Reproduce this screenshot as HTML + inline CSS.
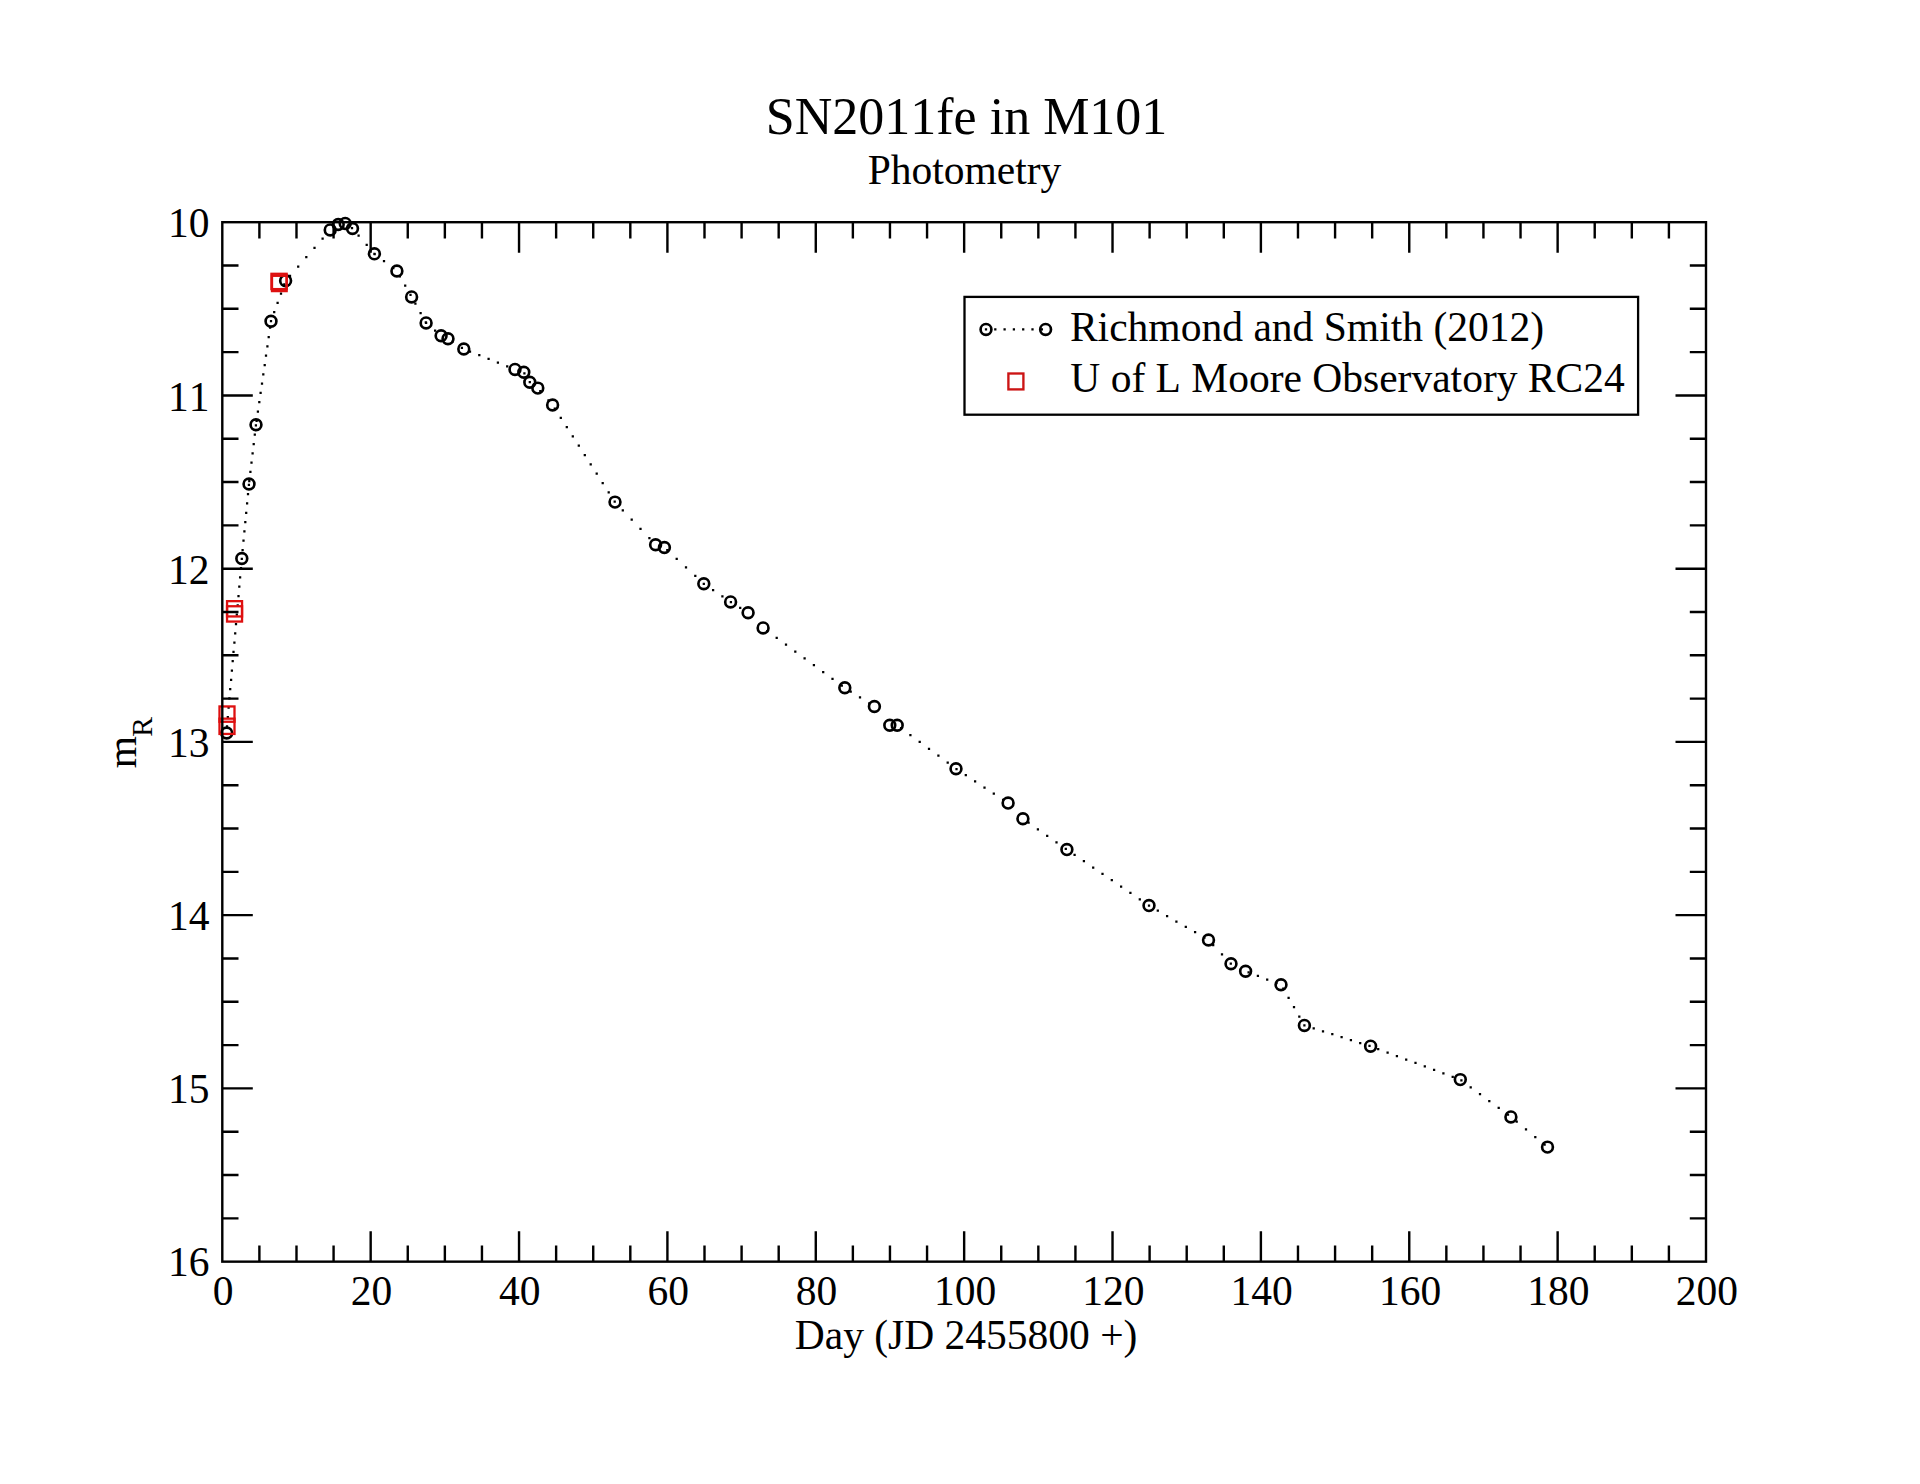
<!DOCTYPE html>
<html lang="en"><head><meta charset="utf-8"><title>SN2011fe in M101 - Photometry</title>
<style>html,body{margin:0;padding:0;background:#fff}body{width:1920px;height:1484px;overflow:hidden}svg{display:block}text{font-kerning:none;font-family:"Liberation Serif","Times New Roman",serif;fill:#000}</style></head><body>
<svg width="1920" height="1484" viewBox="0 0 1920 1484">
<rect width="1920" height="1484" fill="#fff"/>
<text x="966.6" y="134.3" font-size="52.0" text-anchor="middle">SN2011fe in M101</text>
<text x="964.5" y="184.3" font-size="41.5" text-anchor="middle">Photometry</text>
<g font-size="41.5" text-anchor="middle">
<text x="223.1" y="1305.2">0</text>
<text x="371.5" y="1305.2">20</text>
<text x="519.8" y="1305.2">40</text>
<text x="668.2" y="1305.2">60</text>
<text x="816.6" y="1305.2">80</text>
<text x="965.0" y="1305.2">100</text>
<text x="1113.3" y="1305.2">120</text>
<text x="1261.7" y="1305.2">140</text>
<text x="1410.1" y="1305.2">160</text>
<text x="1558.4" y="1305.2">180</text>
<text x="1706.8" y="1305.2">200</text>
</g>
<g font-size="41.5" text-anchor="end">
<text x="209.5" y="237.2">10</text>
<text x="209.5" y="411.2">11</text>
<text x="209.5" y="583.7">12</text>
<text x="209.5" y="756.6">13</text>
<text x="209.5" y="930.2">14</text>
<text x="209.5" y="1103.4">15</text>
<text x="209.5" y="1275.7">16</text>
</g>
<text x="966.1" y="1349.2" font-size="41.5" text-anchor="middle">Day (JD 2455800 +)</text>
<text transform="translate(136.3,768.2) rotate(-90)" font-size="41.5">m<tspan font-size="29.5" dx="-0.8" dy="15.8">R</tspan></text>
<path d="M241.8 558.8h.01M241.0 568.1h.01M240.1 577.4h.01M239.3 586.7h.01M238.5 596.0h.01M237.7 605.3h.01M236.8 614.6h.01M236.0 624.0h.01M235.2 633.3h.01M234.4 642.6h.01M233.5 651.9h.01M232.7 661.2h.01M231.9 670.5h.01M231.1 679.8h.01M230.2 689.1h.01M229.4 698.4h.01M228.6 707.7h.01M227.8 717.0h.01M227.0 726.4h.01M248.9 484.8h.01M248.0 494.1h.01M247.1 503.4h.01M246.2 512.8h.01M245.3 522.1h.01M244.4 531.4h.01M243.5 540.7h.01M242.6 550.0h.01M255.9 425.4h.01M254.8 434.7h.01M253.7 444.0h.01M252.6 453.3h.01M251.5 462.6h.01M250.4 471.9h.01M249.3 481.2h.01M270.1 327.7h.01M268.7 337.0h.01M267.4 346.3h.01M266.0 355.6h.01M264.7 365.0h.01M263.3 374.3h.01M262.0 383.6h.01M260.6 392.9h.01M259.3 402.2h.01M257.9 411.5h.01M256.6 420.8h.01M284.3 284.3h.01M281.0 293.6h.01M277.6 302.9h.01M274.2 312.2h.01M271.0 321.2h.01M322.6 238.5h.01M314.5 247.8h.01M306.3 257.1h.01M298.2 266.5h.01M290.0 275.8h.01M352.0 228.2h.01M358.6 235.6h.01M366.7 244.9h.01M374.4 253.8h.01M374.7 254.0h.01M384.0 261.1h.01M393.3 268.2h.01M399.9 276.3h.01M405.2 285.6h.01M410.5 294.9h.01M415.4 303.7h.01M420.6 313.0h.01M425.8 322.3h.01M426.1 322.9h.01M435.1 330.7h.01M452.6 341.7h.01M461.9 347.8h.01M470.0 351.5h.01M479.3 355.2h.01M488.6 358.9h.01M497.9 362.6h.01M507.2 366.3h.01M524.4 373.3h.01M529.8 382.2h.01M540.3 391.0h.01M548.5 400.3h.01M554.8 408.5h.01M560.8 417.8h.01M566.8 427.1h.01M572.8 436.4h.01M578.8 445.7h.01M584.8 455.0h.01M590.7 464.3h.01M596.7 473.7h.01M602.7 483.0h.01M608.7 492.3h.01M614.7 501.6h.01M622.8 510.3h.01M631.7 519.6h.01M640.5 528.9h.01M649.4 538.2h.01M667.3 550.2h.01M676.7 558.8h.01M686.0 567.4h.01M695.3 575.9h.01M703.8 583.8h.01M713.1 590.1h.01M722.4 596.4h.01M730.9 602.1h.01M740.2 607.9h.01M767.3 631.0h.01M776.7 637.8h.01M786.0 644.7h.01M795.3 651.5h.01M804.6 658.3h.01M813.9 665.1h.01M823.2 672.0h.01M832.5 678.8h.01M841.8 685.6h.01M850.7 691.5h.01M860.0 697.4h.01M869.3 703.3h.01M901.1 728.1h.01M910.4 735.0h.01M919.7 741.9h.01M929.0 748.8h.01M938.4 755.7h.01M947.7 762.6h.01M956.5 769.1h.01M965.8 775.2h.01M975.1 781.4h.01M984.5 787.5h.01M993.8 793.6h.01M1003.1 799.8h.01M1028.6 822.7h.01M1037.9 829.3h.01M1047.2 835.8h.01M1056.5 842.3h.01M1065.8 848.9h.01M1074.6 854.8h.01M1083.9 861.2h.01M1093.2 867.5h.01M1102.5 873.9h.01M1111.8 880.2h.01M1121.1 886.6h.01M1130.4 892.9h.01M1139.8 899.3h.01M1149.0 905.6h.01M1149.0 905.6h.01M1157.8 910.7h.01M1167.1 916.1h.01M1176.4 921.5h.01M1185.8 926.8h.01M1195.1 932.2h.01M1204.4 937.6h.01M1213.2 945.0h.01M1222.0 954.3h.01M1230.8 963.6h.01M1248.6 972.4h.01M1257.9 975.9h.01M1267.2 979.5h.01M1276.5 983.0h.01M1283.3 988.6h.01M1288.6 997.9h.01M1294.0 1007.2h.01M1299.3 1016.5h.01M1304.4 1025.4h.01M1304.4 1025.4h.01M1313.7 1028.3h.01M1323.0 1031.3h.01M1332.3 1034.2h.01M1341.6 1037.1h.01M1350.9 1040.1h.01M1360.2 1043.0h.01M1369.5 1045.9h.01M1378.2 1049.1h.01M1387.6 1052.6h.01M1396.9 1056.0h.01M1406.2 1059.5h.01M1415.5 1062.9h.01M1424.8 1066.4h.01M1434.1 1069.9h.01M1443.4 1073.3h.01M1452.7 1076.8h.01M1461.4 1080.4h.01M1470.7 1087.3h.01M1480.0 1094.1h.01M1489.3 1101.0h.01M1498.7 1107.9h.01M1508.0 1114.7h.01M1516.7 1121.7h.01M1526.0 1129.3h.01M1535.3 1137.0h.01M1544.6 1144.7h.01" stroke="#000" stroke-width="2.25" stroke-linecap="square" fill="none"/>
<g fill="none" stroke="#000" stroke-width="2.65">
<circle cx="226.7" cy="733.0" r="5.4"/>
<circle cx="241.8" cy="558.5" r="5.4"/>
<circle cx="249.0" cy="484.0" r="5.4"/>
<circle cx="256.0" cy="424.8" r="5.4"/>
<circle cx="271.0" cy="321.2" r="5.4"/>
<circle cx="285.6" cy="280.8" r="5.4"/>
<circle cx="330.2" cy="229.9" r="5.4"/>
<circle cx="338.2" cy="224.5" r="5.4"/>
<circle cx="345.2" cy="223.4" r="5.4"/>
<circle cx="352.5" cy="228.5" r="5.4"/>
<circle cx="374.4" cy="253.8" r="5.4"/>
<circle cx="396.9" cy="271.0" r="5.4"/>
<circle cx="411.6" cy="296.9" r="5.4"/>
<circle cx="426.1" cy="322.9" r="5.4"/>
<circle cx="441.1" cy="335.8" r="5.4"/>
<circle cx="448.0" cy="338.8" r="5.4"/>
<circle cx="463.8" cy="349.0" r="5.4"/>
<circle cx="515.0" cy="369.4" r="5.4"/>
<circle cx="523.8" cy="372.2" r="5.4"/>
<circle cx="529.8" cy="382.2" r="5.4"/>
<circle cx="537.8" cy="388.1" r="5.4"/>
<circle cx="552.6" cy="405.0" r="5.4"/>
<circle cx="615.0" cy="502.1" r="5.4"/>
<circle cx="655.6" cy="544.8" r="5.4"/>
<circle cx="664.4" cy="547.5" r="5.4"/>
<circle cx="703.8" cy="583.8" r="5.4"/>
<circle cx="730.6" cy="601.9" r="5.4"/>
<circle cx="748.1" cy="612.8" r="5.4"/>
<circle cx="763.1" cy="627.9" r="5.4"/>
<circle cx="844.8" cy="687.8" r="5.4"/>
<circle cx="874.4" cy="706.5" r="5.4"/>
<circle cx="889.8" cy="725.2" r="5.4"/>
<circle cx="897.2" cy="725.2" r="5.4"/>
<circle cx="956.0" cy="768.8" r="5.4"/>
<circle cx="1008.1" cy="803.1" r="5.4"/>
<circle cx="1022.9" cy="818.8" r="5.4"/>
<circle cx="1066.9" cy="849.6" r="5.4"/>
<circle cx="1149.0" cy="905.6" r="5.4"/>
<circle cx="1208.5" cy="940.0" r="5.4"/>
<circle cx="1231.0" cy="963.8" r="5.4"/>
<circle cx="1245.6" cy="971.2" r="5.4"/>
<circle cx="1281.0" cy="984.7" r="5.4"/>
<circle cx="1304.4" cy="1025.4" r="5.4"/>
<circle cx="1370.6" cy="1046.2" r="5.4"/>
<circle cx="1460.3" cy="1079.6" r="5.4"/>
<circle cx="1510.9" cy="1116.9" r="5.4"/>
<circle cx="1547.5" cy="1147.1" r="5.4"/>
</g>
<g fill="none" stroke="#de1010" stroke-width="2.3">
<rect x="219.50" y="706.45" width="15.00" height="15.30"/>
<rect x="219.50" y="718.65" width="15.00" height="15.30"/>
<rect x="227.05" y="601.15" width="15.00" height="15.30"/>
<rect x="227.05" y="606.25" width="15.00" height="15.30"/>
<rect x="271.45" y="273.80" width="15.20" height="15.30"/>
<rect x="272.00" y="275.80" width="14.65" height="15.30"/>
</g>
<path d="M259.39 222.20v16.20M259.39 1261.65v-16.20M296.49 222.20v16.20M296.49 1261.65v-16.20M333.58 222.20v16.20M333.58 1261.65v-16.20M370.67 222.20v30.50M370.67 1261.65v-30.50M407.76 222.20v16.20M407.76 1261.65v-16.20M444.86 222.20v16.20M444.86 1261.65v-16.20M481.95 222.20v16.20M481.95 1261.65v-16.20M519.04 222.20v30.50M519.04 1261.65v-30.50M556.13 222.20v16.20M556.13 1261.65v-16.20M593.23 222.20v16.20M593.23 1261.65v-16.20M630.32 222.20v16.20M630.32 1261.65v-16.20M667.41 222.20v30.50M667.41 1261.65v-30.50M704.50 222.20v16.20M704.50 1261.65v-16.20M741.60 222.20v16.20M741.60 1261.65v-16.20M778.69 222.20v16.20M778.69 1261.65v-16.20M815.78 222.20v30.50M815.78 1261.65v-30.50M852.87 222.20v16.20M852.87 1261.65v-16.20M889.96 222.20v16.20M889.96 1261.65v-16.20M927.06 222.20v16.20M927.06 1261.65v-16.20M964.15 222.20v30.50M964.15 1261.65v-30.50M1001.24 222.20v16.20M1001.24 1261.65v-16.20M1038.34 222.20v16.20M1038.34 1261.65v-16.20M1075.43 222.20v16.20M1075.43 1261.65v-16.20M1112.52 222.20v30.50M1112.52 1261.65v-30.50M1149.61 222.20v16.20M1149.61 1261.65v-16.20M1186.70 222.20v16.20M1186.70 1261.65v-16.20M1223.80 222.20v16.20M1223.80 1261.65v-16.20M1260.89 222.20v30.50M1260.89 1261.65v-30.50M1297.98 222.20v16.20M1297.98 1261.65v-16.20M1335.08 222.20v16.20M1335.08 1261.65v-16.20M1372.17 222.20v16.20M1372.17 1261.65v-16.20M1409.26 222.20v30.50M1409.26 1261.65v-30.50M1446.35 222.20v16.20M1446.35 1261.65v-16.20M1483.44 222.20v16.20M1483.44 1261.65v-16.20M1520.54 222.20v16.20M1520.54 1261.65v-16.20M1557.63 222.20v30.50M1557.63 1261.65v-30.50M1594.72 222.20v16.20M1594.72 1261.65v-16.20M1631.82 222.20v16.20M1631.82 1261.65v-16.20M1668.91 222.20v16.20M1668.91 1261.65v-16.20M222.30 265.51h16.20M1706.00 265.51h-16.20M222.30 308.82h16.20M1706.00 308.82h-16.20M222.30 352.13h16.20M1706.00 352.13h-16.20M222.30 395.44h30.50M1706.00 395.44h-30.50M222.30 438.75h16.20M1706.00 438.75h-16.20M222.30 482.06h16.20M1706.00 482.06h-16.20M222.30 525.37h16.20M1706.00 525.37h-16.20M222.30 568.68h30.50M1706.00 568.68h-30.50M222.30 611.99h16.20M1706.00 611.99h-16.20M222.30 655.30h16.20M1706.00 655.30h-16.20M222.30 698.61h16.20M1706.00 698.61h-16.20M222.30 741.92h30.50M1706.00 741.92h-30.50M222.30 785.24h16.20M1706.00 785.24h-16.20M222.30 828.55h16.20M1706.00 828.55h-16.20M222.30 871.86h16.20M1706.00 871.86h-16.20M222.30 915.17h30.50M1706.00 915.17h-30.50M222.30 958.48h16.20M1706.00 958.48h-16.20M222.30 1001.79h16.20M1706.00 1001.79h-16.20M222.30 1045.10h16.20M1706.00 1045.10h-16.20M222.30 1088.41h30.50M1706.00 1088.41h-30.50M222.30 1131.72h16.20M1706.00 1131.72h-16.20M222.30 1175.03h16.20M1706.00 1175.03h-16.20M222.30 1218.34h16.20M1706.00 1218.34h-16.20" stroke="#000" stroke-width="2.40" fill="none"/>
<rect x="222.30" y="222.20" width="1483.70" height="1039.45" fill="none" stroke="#000" stroke-width="2.40"/>
<rect x="964.5" y="296.9" width="673.6" height="117.8" fill="#fff" stroke="#000" stroke-width="2.3"/>
<path d="M986.0 329.4h.01M995.3 329.4h.01M1004.6 329.4h.01M1013.9 329.4h.01M1023.2 329.4h.01M1032.5 329.4h.01M1041.9 329.4h.01" stroke="#000" stroke-width="2.25" stroke-linecap="square" fill="none"/>
<g fill="none" stroke="#000" stroke-width="2.65"><circle cx="986" cy="329.4" r="5.4"/><circle cx="1045.6" cy="329.4" r="5.4"/></g>
<rect x="1008.40" y="373.50" width="15.00" height="15.90" fill="none" stroke="#cc1414" stroke-width="2.35"/>
<text x="1069.9" y="340.9" font-size="41.55">Richmond and Smith (2012)</text>
<text x="1070.3" y="391.6" font-size="41.5">U of L Moore Observatory RC24</text>
</svg></body></html>
